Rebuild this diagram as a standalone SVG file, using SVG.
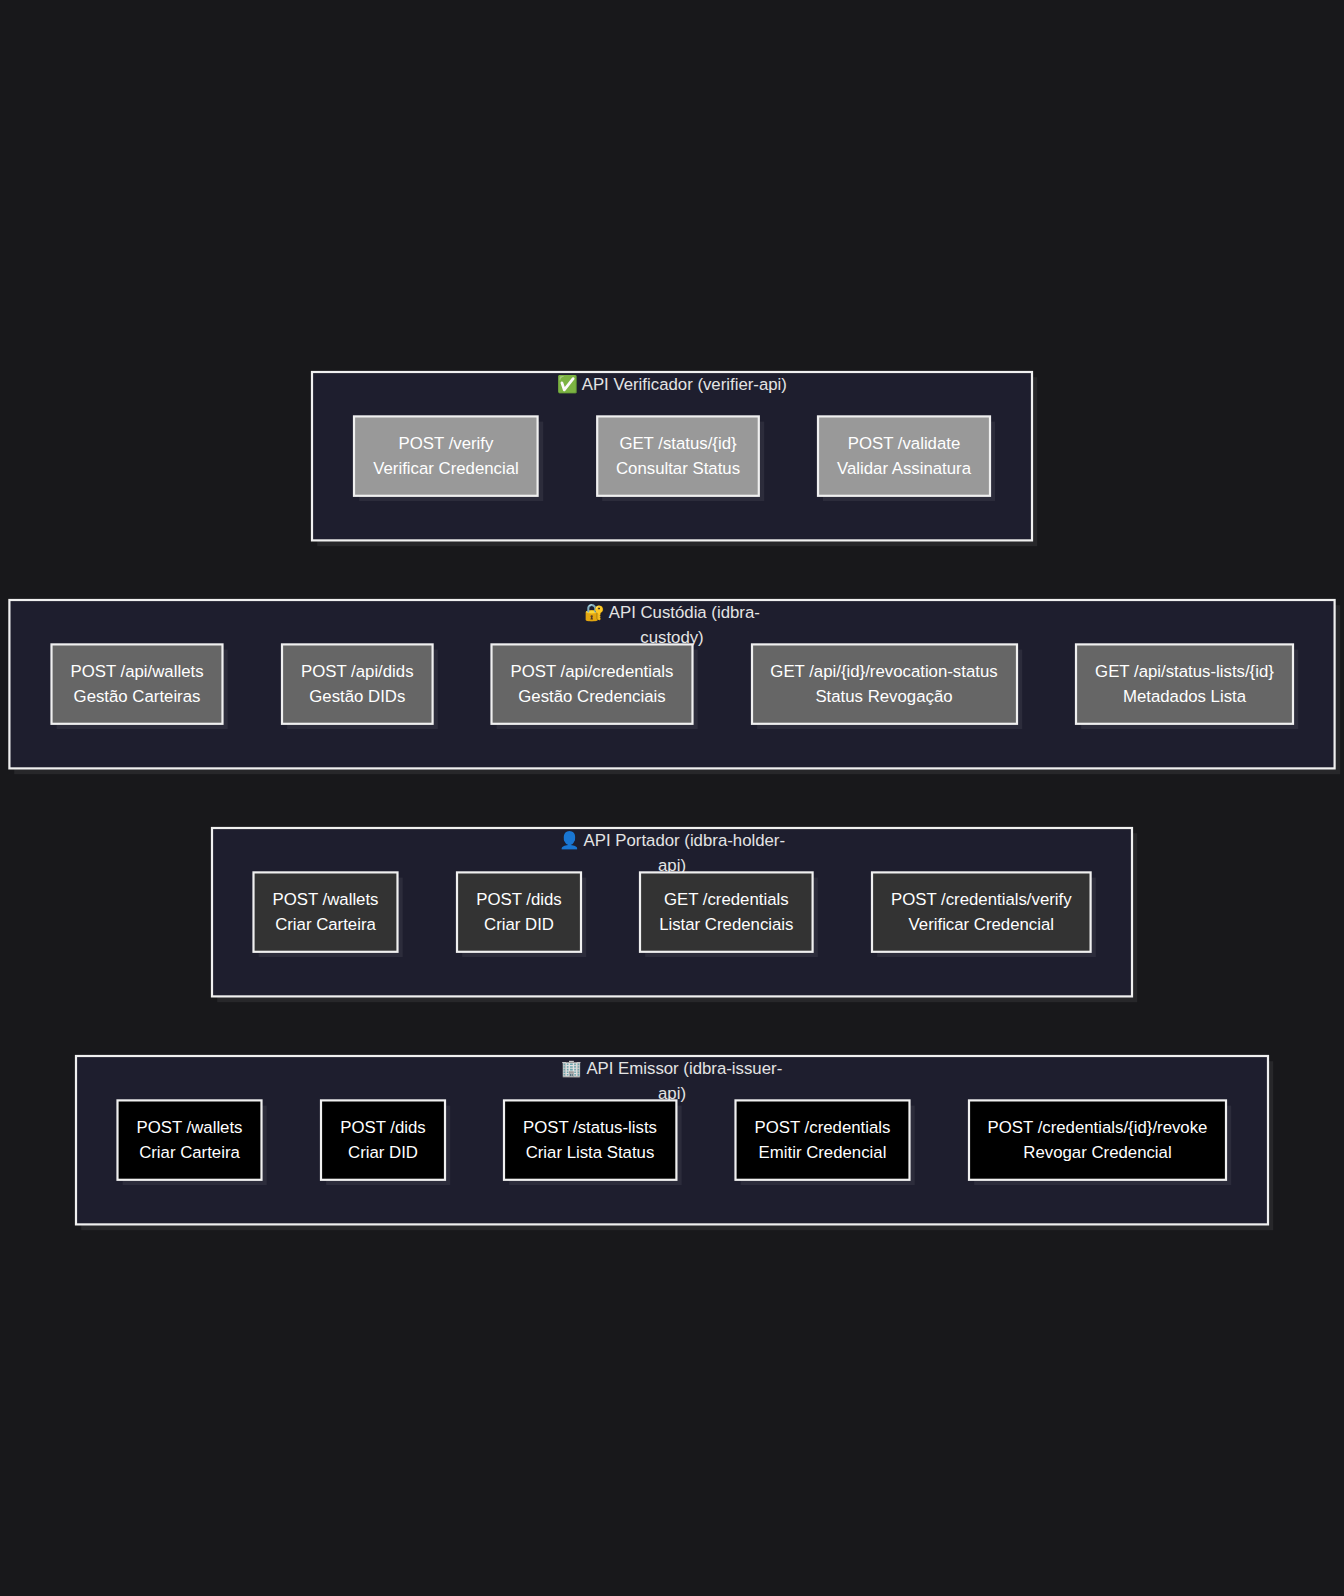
<svg xmlns="http://www.w3.org/2000/svg" width="1344" height="1596" viewBox="0 0 1344 1596">
<style>
text{font-family:"Liberation Sans",Arial,"Noto Color Emoji",sans-serif;font-size:16.8px;text-anchor:middle}
.t{fill:#e4e4e4}
.n{fill:#fff}
.c{fill:#1e1e2e;stroke:#f0f0f0;stroke-width:2.2}
.r{stroke:#f0f0f0;stroke-width:2.2}
.s{fill:#f0f0f0;fill-opacity:.07}
.v{fill:#999}.u{fill:#666}.p{fill:#333}.e{fill:#000}
</style>
<rect width="1344" height="1596" fill="#18181b"/>
<g id="connectors"/>
<g id="verifier">
<rect class="s" x="317.200" y="377.200" width="720" height="169"/><rect class="c" x="312" y="372" width="720" height="168.400"/>
<text class="t" x="672" y="390">✅ API Verificador (verifier-api)</text>
</g>
<g id="v1"><rect class="s" x="359.200" y="421.600" width="184" height="79.400"/><rect class="r v" x="354" y="416.400" width="183.600" height="79.400"/><text class="n" x="446" y="449">POST /verify</text><text class="n" x="446" y="474">Verificar Credencial</text></g>
<g id="v2"><rect class="s" x="602.200" y="421.600" width="162" height="79.400"/><rect class="r v" x="597.200" y="416.400" width="161.600" height="79.400"/><text class="n" x="678" y="449">GET /status/{id}</text><text class="n" x="678" y="474">Consultar Status</text></g>
<g id="v3"><rect class="s" x="823" y="421.600" width="172" height="79.400"/><rect class="r v" x="818" y="416.400" width="172" height="79.400"/><text class="n" x="904" y="449">POST /validate</text><text class="n" x="904" y="474">Validar Assinatura</text></g>
<g id="custody">
<rect class="s" x="14.200" y="605.200" width="1326" height="169"/><rect class="c" x="9.400" y="600" width="1325.200" height="168.400"/>
<text class="t" x="672" y="618">🔐 API Custódia (idbra-</text><text class="t" x="672" y="643">custody)</text>
</g>
<g id="c1"><rect class="s" x="56.700" y="649.600" width="171" height="79.400"/><rect class="r u" x="51.500" y="644.400" width="171" height="79.400"/><text class="n" x="137" y="677">POST /api/wallets</text><text class="n" x="137" y="702">Gestão Carteiras</text></g>
<g id="c2"><rect class="s" x="287.200" y="649.600" width="150.600" height="79.400"/><rect class="r u" x="282" y="644.400" width="150.600" height="79.400"/><text class="n" x="357.300" y="677">POST /api/dids</text><text class="n" x="357.300" y="702">Gestão DIDs</text></g>
<g id="c3"><rect class="s" x="496.700" y="649.600" width="201" height="79.400"/><rect class="r u" x="491.500" y="644.400" width="201" height="79.400"/><text class="n" x="592" y="677">POST /api/credentials</text><text class="n" x="592" y="702">Gestão Credenciais</text></g>
<g id="c4"><rect class="s" x="757.200" y="649.600" width="265" height="79.400"/><rect class="r u" x="752" y="644.400" width="265" height="79.400"/><text class="n" x="884" y="677">GET /api/{id}/revocation-status</text><text class="n" x="884" y="702">Status Revogação</text></g>
<g id="c5"><rect class="s" x="1081.200" y="649.600" width="217" height="79.400"/><rect class="r u" x="1076" y="644.400" width="217" height="79.400"/><text class="n" x="1184.500" y="677">GET /api/status-lists/{id}</text><text class="n" x="1184.500" y="702">Metadados Lista</text></g>
<g id="holder">
<rect class="s" x="217.200" y="833.200" width="920" height="169"/><rect class="c" x="212" y="828" width="920" height="168.400"/>
<text class="t" x="672" y="846">👤 API Portador (idbra-holder-</text><text class="t" x="672" y="871">api)</text>
</g>
<g id="h1"><rect class="s" x="258.700" y="877.600" width="144" height="79.400"/><rect class="r p" x="253.500" y="872.400" width="144" height="79.400"/><text class="n" x="325.500" y="905">POST /wallets</text><text class="n" x="325.500" y="930">Criar Carteira</text></g>
<g id="h2"><rect class="s" x="462.200" y="877.600" width="124" height="79.400"/><rect class="r p" x="457" y="872.400" width="124" height="79.400"/><text class="n" x="519" y="905">POST /dids</text><text class="n" x="519" y="930">Criar DID</text></g>
<g id="h3"><rect class="s" x="645.200" y="877.600" width="172.600" height="79.400"/><rect class="r p" x="640" y="872.400" width="172.600" height="79.400"/><text class="n" x="726.300" y="905">GET /credentials</text><text class="n" x="726.300" y="930">Listar Credenciais</text></g>
<g id="h4"><rect class="s" x="877.200" y="877.600" width="218.600" height="79.400"/><rect class="r p" x="872" y="872.400" width="218.600" height="79.400"/><text class="n" x="981.300" y="905">POST /credentials/verify</text><text class="n" x="981.300" y="930">Verificar Credencial</text></g>
<g id="issuer">
<rect class="s" x="81.200" y="1061.200" width="1192" height="169"/><rect class="c" x="76" y="1056" width="1192" height="168.400"/>
<text class="t" x="672" y="1074">🏢 API Emissor (idbra-issuer-</text><text class="t" x="672" y="1099">api)</text>
</g>
<g id="i1"><rect class="s" x="122.700" y="1105.600" width="144" height="79.400"/><rect class="r e" x="117.500" y="1100.400" width="144" height="79.400"/><text class="n" x="189.500" y="1133">POST /wallets</text><text class="n" x="189.500" y="1158">Criar Carteira</text></g>
<g id="i2"><rect class="s" x="326.200" y="1105.600" width="124" height="79.400"/><rect class="r e" x="321" y="1100.400" width="124" height="79.400"/><text class="n" x="383" y="1133">POST /dids</text><text class="n" x="383" y="1158">Criar DID</text></g>
<g id="i3"><rect class="s" x="509.200" y="1105.600" width="172.400" height="79.400"/><rect class="r e" x="504" y="1100.400" width="172.400" height="79.400"/><text class="n" x="590" y="1133">POST /status-lists</text><text class="n" x="590" y="1158">Criar Lista Status</text></g>
<g id="i4"><rect class="s" x="740.700" y="1105.600" width="174" height="79.400"/><rect class="r e" x="735.500" y="1100.400" width="174" height="79.400"/><text class="n" x="822.500" y="1133">POST /credentials</text><text class="n" x="822.500" y="1158">Emitir Credencial</text></g>
<g id="i5"><rect class="s" x="974.200" y="1105.600" width="257" height="79.400"/><rect class="r e" x="969" y="1100.400" width="257" height="79.400"/><text class="n" x="1097.500" y="1133">POST /credentials/{id}/revoke</text><text class="n" x="1097.500" y="1158">Revogar Credencial</text></g>
</svg>
